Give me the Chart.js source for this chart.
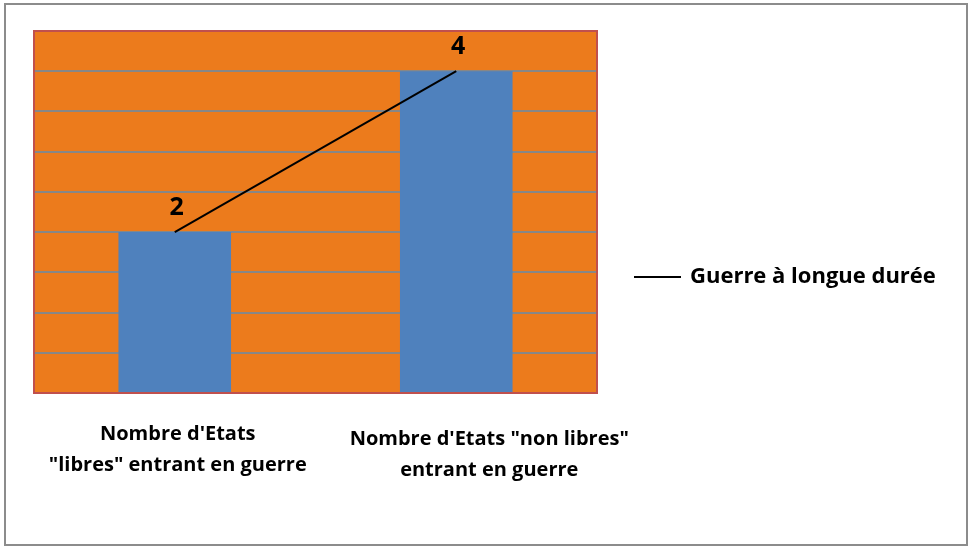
<!DOCTYPE html>
<html><head><meta charset="utf-8">
<script src="https://cdn.jsdelivr.net/npm/chart.js@4"></script>
<style>html,body{margin:0;padding:0;background:#fff}#wrap{width:969px;height:547px;position:relative}</style>
</head><body><div id="wrap"><canvas id="c" width="969" height="547"></canvas></div>
<script>
const categories = [["Nombre d'Etats", "\"libres\" entrant en guerre"], ["Nombre d'Etats \"non libres\"", "entrant en guerre"]];
const barValues = [2, 4];
const lineValues = [2, 4];
const lineLabel = "Guerre à longue durée";
const yTicks = {min: 0, max: 4.5, step: 0.5};

const FONT = "'Open Sans', sans-serif";

const decor = {
  id: 'decor',
  beforeDraw(chart) {
    const {ctx, chartArea: a} = chart;
    ctx.save();
    ctx.fillStyle = '#fff';
    ctx.fillRect(0, 0, chart.width, chart.height);
    ctx.strokeStyle = '#8c8c8c';
    ctx.lineWidth = 2;
    ctx.strokeRect(5, 4, 962, 541);
    ctx.fillStyle = '#EC7B1C';
    ctx.fillRect(a.left, a.top, a.right - a.left, a.bottom - a.top);
    ctx.restore();
  },
  afterDraw(chart) {
    const {ctx, chartArea: a} = chart;
    ctx.save();
    ctx.strokeStyle = '#C0504D';
    ctx.lineWidth = 2;
    ctx.strokeRect(a.left, a.top, a.right - a.left, a.bottom - a.top);
    // data labels
    const meta = chart.getDatasetMeta(1);
    ctx.fillStyle = '#000';
    ctx.font = 'bold 25px ' + FONT;
    ctx.textAlign = 'center';
    ctx.textBaseline = 'middle';
    meta.data.forEach((p, i) => {
      ctx.fillText(String(lineValues[i]), p.x + 2, p.y - 24);
    });
    // category labels
    const xs = chart.scales.x;
    ctx.font = 'bold 20px ' + FONT;
    const offs = [3, 33];
    const tops = [434, 439];
    categories.forEach((lines, i) => {
      const cx = xs.getPixelForValue(i) + offs[i];
      lines.forEach((t, j) => ctx.fillText(t, cx, tops[i] + j * 31));
    });
    // legend
    ctx.strokeStyle = '#000';
    ctx.lineWidth = 2;
    ctx.beginPath();
    ctx.moveTo(634, 277);
    ctx.lineTo(681, 277);
    ctx.stroke();
    ctx.font = 'bold 22px ' + FONT;
    ctx.textAlign = 'left';
    ctx.fillText(lineLabel, 690, 277);
    ctx.restore();
  }
};

new Chart(document.getElementById('c'), {
  data: {
    labels: categories,
    datasets: [
      {type: 'bar', data: barValues, backgroundColor: '#4F81BD', barPercentage: 0.4, categoryPercentage: 1, order: 2},
      {type: 'line', label: lineLabel, data: lineValues, borderColor: '#000', borderWidth: 2, pointRadius: 0, fill: false, order: 1}
    ]
  },
  options: {
    responsive: false,
    animation: false,
    layout: {padding: {left: 34, top: 31, right: 372, bottom: 154}},
    plugins: {legend: {display: false}, tooltip: {enabled: false}},
    scales: {
      x: {display: true, ticks: {display: false}, grid: {display: false, drawTicks: false}, border: {display: false}},
      y: {min: yTicks.min, max: yTicks.max, ticks: {stepSize: yTicks.step, display: false},
          grid: {color: '#878787', lineWidth: 2, drawTicks: false}, border: {display: false}}
    }
  },
  plugins: [decor]
});
</script></body></html>
